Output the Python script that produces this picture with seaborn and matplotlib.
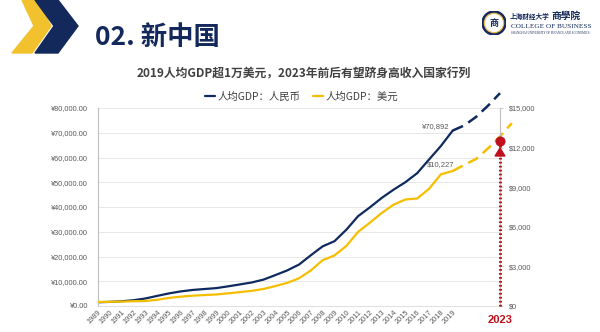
import numpy as np
import pandas as pd
import matplotlib
matplotlib.use("Agg")
import matplotlib.pyplot as plt
import seaborn as sns
from matplotlib.patches import Polygon, Circle
from matplotlib.lines import Line2D

# ---------------- data ----------------
years = list(range(1989, 2020))
gdp_cny = [1519, 1663, 1912, 2334, 3027, 4081, 5091, 5898, 6481, 6860,
           7229, 7942, 8717, 9506, 10666, 12487, 14368, 16738, 20494, 24100,
           26180, 30808, 36302, 39874, 43684, 47005, 50028, 53680, 59201, 64644,
           70892]
gdp_usd = [311, 317, 333, 366, 377, 473, 610, 709, 782, 829,
           873, 959, 1053, 1149, 1289, 1509, 1753, 2099, 2694, 3468,
           3832, 4550, 5618, 6317, 7051, 7679, 8067, 8148, 8879, 9977,
           10227]
proj_years_cny = [2019, 2020, 2021, 2022, 2023]
proj_cny = [70892, 73000, 76500, 81000, 86000]
proj_years_usd = [2019, 2020, 2021, 2022, 2023, 2024]
proj_usd = [10227, 10700, 11150, 11950, 12850, 13850]
threshold_year = 2023
threshold_usd = 12535
left_ticks = list(range(0, 80001, 10000))
right_ticks = list(range(0, 15001, 3000))
year_labels = [str(y) for y in years]
header = "02. 新中国"
title = "2019人均GDP超1万美元，2023年前后有望跻身高收入国家行列"
legend_labels = ["人均GDP：人民币", "人均GDP：美元"]

hist = pd.DataFrame({"year": years, "cny": gdp_cny, "usd": gdp_usd})
pc = pd.DataFrame({"year": proj_years_cny, "cny": proj_cny})
pu = pd.DataFrame({"year": proj_years_usd, "usd": proj_usd})
thr = pd.DataFrame({"year": [threshold_year, threshold_year], "usd": [0, threshold_usd]})

NAVY = "#0F2A5E"
HEAD = "#13295C"
GOLD = "#F5BE00"
RED = "#C00F1C"
GRAY = "#595959"

sns.set_theme(style="white")
plt.rcParams["font.family"] = ["Noto Sans CJK SC", "DejaVu Sans"]

W, H = 600, 332
fig = plt.figure(figsize=(6, 3.32), dpi=100)
fig.patch.set_facecolor("white")

ax = fig.add_axes([98 / W, 26 / H, 402 / W, 198 / H])
ax2 = ax.twinx()

sns.lineplot(data=hist, x="year", y="cny", ax=ax, color=NAVY, lw=1.6, legend=False)
sns.lineplot(data=pc, x="year", y="cny", ax=ax, color=NAVY, lw=1.8,
             linestyle=(0, (4.5, 2.5)), clip_on=False, legend=False)
sns.lineplot(data=hist, x="year", y="usd", ax=ax2, color=GOLD, lw=1.6, legend=False)
sns.lineplot(data=pu, x="year", y="usd", ax=ax2, color=GOLD, lw=1.8,
             linestyle=(0, (4.5, 2.5)), clip_on=False, legend=False)

# red dotted vertical line up to the high-income threshold
sns.lineplot(data=thr, x="year", y="usd", ax=ax2, color=RED, lw=2.2,
             linestyle=(0, (0.55, 0.75)), dash_capstyle="butt",
             estimator=None, sort=False, clip_on=False, legend=False, zorder=5)
ax2.annotate("", xy=(threshold_year, threshold_usd), xytext=(0, -9),
             textcoords="offset points",
             arrowprops=dict(arrowstyle="-|>,head_length=0.45,head_width=0.28",
                             color=RED, lw=1.2, shrinkA=0, shrinkB=4.5),
             annotation_clip=False, zorder=6)
sns.scatterplot(x=[threshold_year], y=[threshold_usd], ax=ax2, color=RED, s=45,
                edgecolor=RED, clip_on=False, zorder=7, legend=False)

ax.set_xlim(1989, 2023)
ax.set_ylim(0, 80000)
ax2.set_ylim(0, 15000)
for a in (ax, ax2):
    a.set_xlabel("")
    a.set_ylabel("")

ax.set_xticks(years)
ax.set_xticklabels(year_labels, rotation=45, ha="right", rotation_mode="anchor",
                   fontsize=5.3, color=GRAY, family="Liberation Sans")
ax.tick_params(axis="x", length=0, pad=2)
ax.set_yticks(left_ticks)
ax.set_yticklabels([f"¥{v:,.2f}" for v in left_ticks], fontsize=5.3, color=GRAY,
                   family="Liberation Sans")
ax.tick_params(axis="y", length=0, pad=7)
ax2.set_yticks(right_ticks)
ax2.set_yticklabels([f"${v:,}" for v in right_ticks], fontsize=5.3, color=GRAY,
                    family="Liberation Sans")
ax2.tick_params(axis="y", length=2.5, pad=4, color="#BFBFBF", width=0.6)

ax.yaxis.grid(True, color="#E3E3E3", lw=0.6)
ax.set_axisbelow(True)
for s in ("top", "right"):
    ax.spines[s].set_visible(False)
ax.spines["left"].set_color("#BFBFBF")
ax.spines["left"].set_linewidth(0.8)
ax.spines["bottom"].set_color("#D9D9D9")
ax.spines["bottom"].set_linewidth(0.6)
for s in ("top", "left", "bottom"):
    ax2.spines[s].set_visible(False)
ax2.spines["right"].set_color("#BFBFBF")
ax2.spines["right"].set_linewidth(0.8)

# value annotations
ax.annotate(f"¥{gdp_cny[-1]:,}", xy=(years[-1], gdp_cny[-1]), xytext=(-3, 3),
            textcoords="offset points", ha="right", va="center", fontsize=5.5,
            color=GRAY, family="Liberation Sans")
ax2.annotate(f"${gdp_usd[-1]:,}", xy=(years[-1], gdp_usd[-1]), xytext=(1, 5),
             textcoords="offset points", ha="right", va="center", fontsize=5.5,
             color=GRAY, family="Liberation Sans")

ax.text(threshold_year, -0.07, str(threshold_year), transform=ax.get_xaxis_transform(),
        ha="center", va="center", color=RED, fontsize=8, fontweight="bold",
        family="Liberation Sans")

# title + legend
fig.text(0.507, 0.777, title, ha="center", va="center", fontsize=8.5,
         fontweight="bold", color="#404040")
handles = [Line2D([0], [0], color=NAVY, lw=1.6), Line2D([0], [0], color=GOLD, lw=1.6)]
fig.legend(handles=handles, labels=legend_labels, loc="center",
           bbox_to_anchor=(0.502, 0.708), ncol=2, frameon=False, fontsize=7.5,
           handlelength=1.0, handletextpad=0.2, columnspacing=1.2,
           labelcolor="#404040")

# header decoration
def px(pts):
    return [(x / W, 1 - y / H) for x, y in pts]

fig.patches.append(Polygon(px([(22, 0), (37, 0), (51, 26), (32, 53), (12, 53), (34, 26)]),
                           closed=True, transform=fig.transFigure, color="#F2C12E"))
fig.patches.append(Polygon(px([(35, 0), (58, 0), (78, 26), (58, 53), (35, 53), (54, 26)]),
                           closed=True, transform=fig.transFigure, color=HEAD))
fig.text(95 / W, 1 - 37.5 / H, header, ha="left", va="center", fontsize=19,
         fontweight="bold", color=HEAD)

# logo
lax = fig.add_axes([(494 - 12) / W, (H - 23 - 12) / H, 24 / W, 24 / H])
lax.set_xlim(-1, 1)
lax.set_ylim(-1, 1)
lax.set_aspect("equal")
lax.axis("off")
lax.add_patch(Circle((0, 0), 1.0, color=HEAD))
lax.add_patch(Circle((0, 0), 0.8, color="#E8B84A"))
lax.add_patch(Circle((0, 0), 0.7, color="white"))
lax.text(0, -0.05, "商", ha="center", va="center", fontsize=6.5, color=HEAD,
         fontweight="bold")
fig.text(510 / W, 1 - 16 / H, "上海财经大学", ha="left", va="center", fontsize=4.8,
         color=HEAD, fontweight="bold")
fig.text(551 / W, 1 - 15.5 / H, "商學院", ha="left", va="center", fontsize=7,
         color=HEAD, fontweight="bold")
fig.text(511 / W, 1 - 27 / H, "COLLEGE OF BUSINESS", ha="left", va="center",
         fontsize=5.2, color=HEAD, family="Liberation Serif")
fig.text(511 / W, 1 - 33 / H, "SHANGHAI UNIVERSITY OF FINANCE AND ECONOMICS",
         ha="left", va="center", fontsize=2.2, color=HEAD, family="Liberation Serif")

fig.savefig("out.png", dpi=100, facecolor="white")
